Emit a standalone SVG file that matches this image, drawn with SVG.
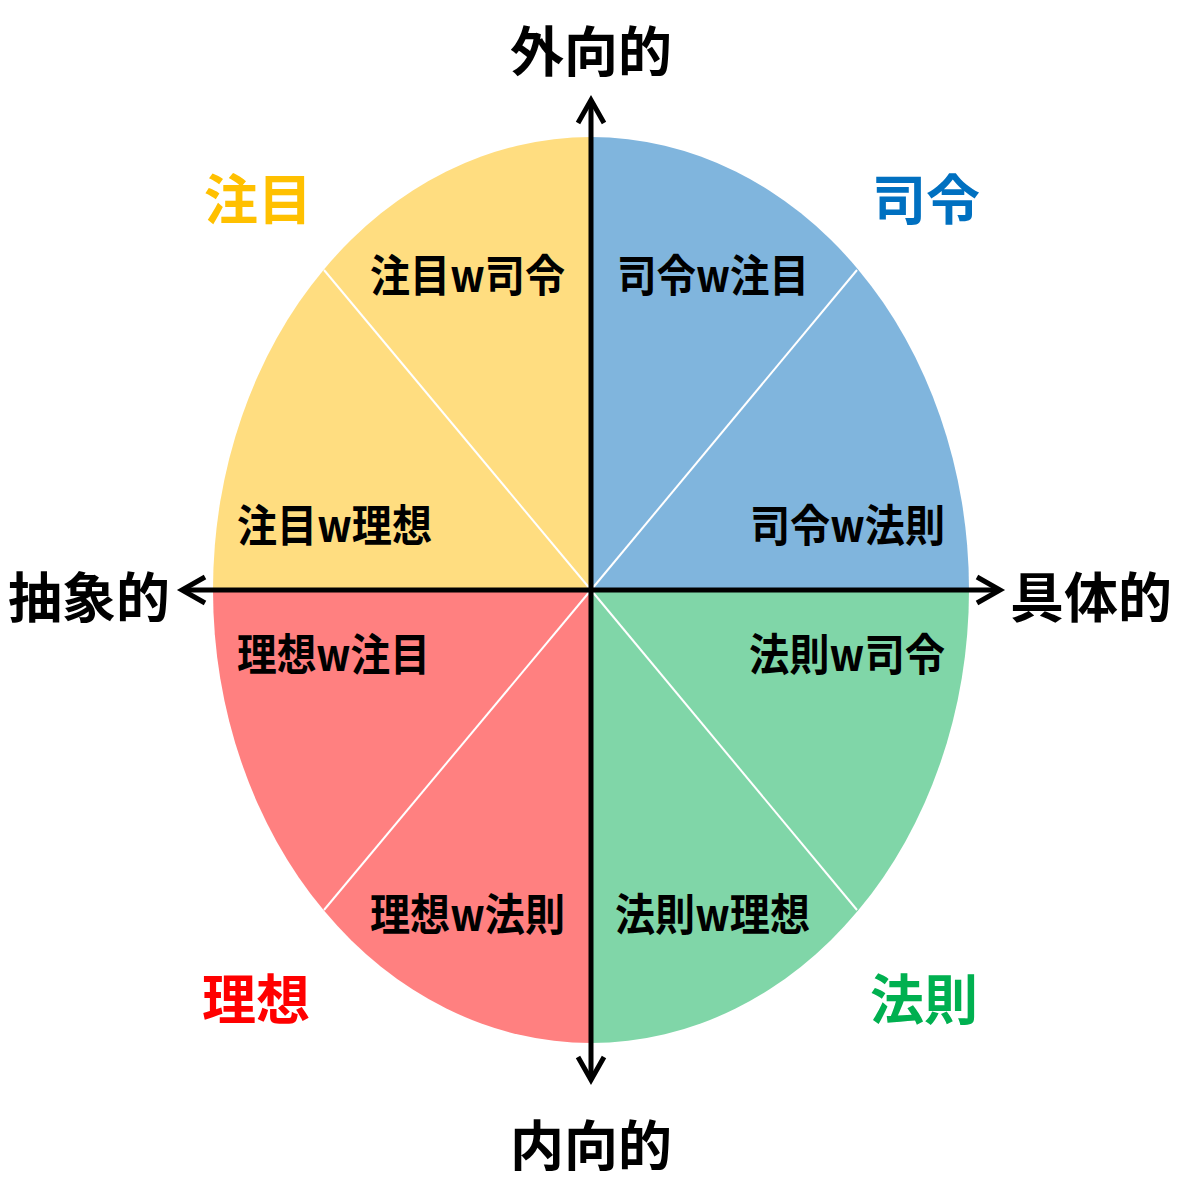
<svg xmlns="http://www.w3.org/2000/svg" width="1181" height="1181" viewBox="0 0 1181 1181">
<style>
text{font-family:"Noto Sans CJK JP","Noto Sans CJK SC",sans-serif;font-weight:bold}
.big{font-size:54px}
.in{font-size:44px;fill:#000}
.div{stroke:#fff;stroke-width:2}
.ax{stroke:#000;stroke-width:5;fill:none}
</style>
<rect width="1181" height="1181" fill="#fff"/>
<g id="q-shirei"><path d="M591,590 L591,137 A378,453 0 0 1 969,590 Z" fill="#80B5DD"/></g>
<g id="q-chumoku"><path d="M591,590 L591,137 A378,453 0 0 0 213,590 Z" fill="#FFDD80"/></g>
<g id="q-riso"><path d="M591,590 L213,590 A378,453 0 0 0 591,1043 Z" fill="#FF8080"/></g>
<g id="q-hosoku"><path d="M591,590 L591,1043 A378,453 0 0 0 969,590 Z" fill="#80D6A8"/></g>
<g id="connectors">
<line class="div" x1="591" y1="590" x2="324" y2="270"/>
<line class="div" x1="591" y1="590" x2="857" y2="270"/>
<line class="div" x1="591" y1="590" x2="324" y2="910"/>
<line class="div" x1="591" y1="590" x2="857" y2="910"/>
<line class="ax" x1="591" y1="100" x2="591" y2="1080"/>
<line class="ax" x1="182" y1="590" x2="1000" y2="590"/>
<polyline class="ax" points="578,123 591,100 604,123"/>
<polyline class="ax" points="578,1057 591,1080 604,1057"/>
<polyline class="ax" points="205,577 182,590 205,603"/>
<polyline class="ax" points="977,577 1000,590 977,603"/>
</g>
<g id="axis-labels">
<text class="big" x="591" y="72" text-anchor="middle">外向的</text>
<text class="big" x="591" y="1166" text-anchor="middle">内向的</text>
<text class="big" x="8" y="618" textLength="162" lengthAdjust="spacingAndGlyphs">抽象的</text>
<text class="big" x="1010" y="618" textLength="162" lengthAdjust="spacingAndGlyphs">具体的</text>
</g>
<g id="quadrant-labels">
<text class="big" x="204" y="220" fill="#FFC000">注目</text>
<text class="big" x="872" y="220" fill="#0070C0">司令</text>
<text class="big" x="202" y="1020" fill="#FF0000">理想</text>
<text class="big" x="870" y="1020" fill="#00B050">法則</text>
</g>
<g id="sub-labels">
<text class="in" x="370" y="292" textLength="195" lengthAdjust="spacingAndGlyphs">注目w司令</text>
<text class="in" x="617" y="292" textLength="192" lengthAdjust="spacingAndGlyphs">司令w注目</text>
<text class="in" x="237" y="542" textLength="195" lengthAdjust="spacingAndGlyphs">注目w理想</text>
<text class="in" x="750" y="542" textLength="195" lengthAdjust="spacingAndGlyphs">司令w法則</text>
<text class="in" x="237" y="671" textLength="193" lengthAdjust="spacingAndGlyphs">理想w注目</text>
<text class="in" x="749" y="671" textLength="196" lengthAdjust="spacingAndGlyphs">法則w司令</text>
<text class="in" x="370" y="931" textLength="195" lengthAdjust="spacingAndGlyphs">理想w法則</text>
<text class="in" x="615" y="931" textLength="195" lengthAdjust="spacingAndGlyphs">法則w理想</text>
</g>
</svg>
